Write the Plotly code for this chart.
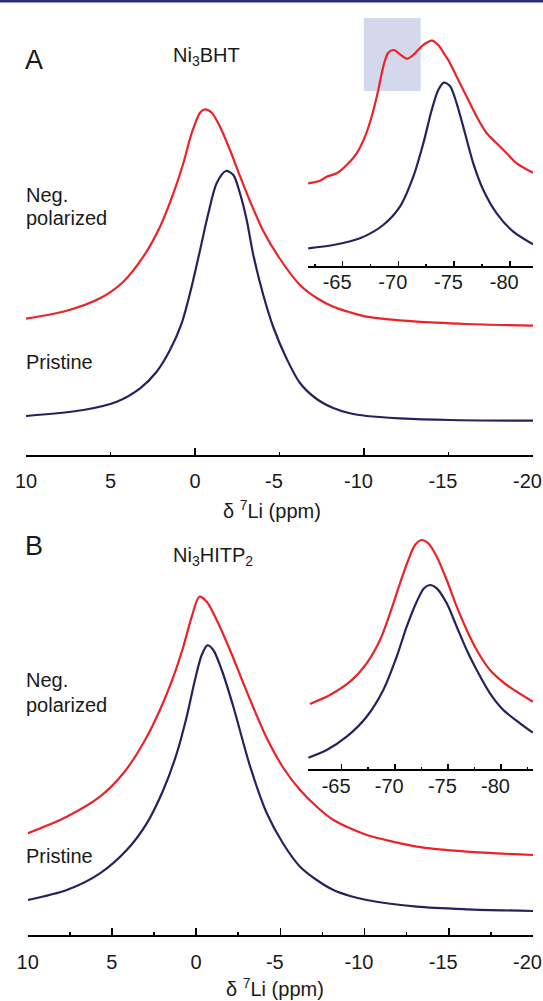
import plotly.graph_objects as go

W, H = 543, 1001
RED = "#ec2227"
NAVY = "#25235f"
FONT = "Liberation Sans, Arial, sans-serif"

# ---------------- Panel A (Ni3BHT), main spectrum ----------------
a_pristine_ppm = [10.0, 6.61, 4.63, 3.25, 2.27, 1.48, 0.79, 0.20, -0.30, -0.79, -1.28, -1.83,
                  -2.27, -2.66, -3.06, -3.45, -4.04, -4.63, -5.43, -6.21, -7.20, -8.18, -9.17,
                  -10.16, -12.13, -15.09, -20.0]
a_pristine_int = [39, 45, 53.3, 66.7, 83.3, 105, 131.7, 168.3, 205, 241.7, 271.7, 284,
                  280, 261.7, 235, 200, 160, 128, 96, 72, 56, 47, 41.7, 39, 36.7, 35, 34.3]
a_neg_ppm = [10.0, 7.59, 5.62, 4.24, 3.06, 2.07, 1.28, 0.69, 0.20, -0.30, -0.59, -0.99, -1.48,
             -2.07, -2.66, -3.25, -4.04, -5.03, -6.21, -7.20, -8.18, -9.17, -10.16, -13.12,
             -16.08, -20.0]
a_neg_int = [136.3, 144.3, 156.7, 173.3, 198.3, 228.3, 261.7, 291.7, 321.7, 342.3, 345.7, 342.3, 328.3,
             305, 279, 254, 224, 196, 170, 157, 148.3, 142.7, 138.3, 133.3, 131, 129.3]

# ---------------- Panel A inset ----------------
ai_pristine_ppm = [-61.91, -64.16, -66.55, -68.64, -70.14, -71.34, -72.24, -72.99, -73.58, -74.09,
                   -74.63, -75.23, -75.98, -76.72, -77.62, -78.82, -80.31, -82.08]
ai_pristine_int = [17.7, 21, 27.7, 41, 59.3, 89.3, 122.7, 156, 176, 183.3,
                   180, 162.7, 132.7, 102.7, 76, 52.7, 34.3, 21.7]
ai_neg_ppm = [-61.91, -62.96, -63.56, -64.46, -65.36, -66.26, -67.0, -67.60, -68.20, -68.64, -69.09,
              -69.60, -70.14, -70.80, -71.49, -72.24, -72.99, -73.58, -74.18, -74.48, -75.23, -76.13,
              -77.03, -77.93, -78.82, -79.72, -80.62, -82.08]
ai_neg_int = [82.7, 85.3, 89.3, 92.7, 101, 112.7, 129.3, 149.3, 176, 199.3, 213.3,
              216, 211.7, 207.3, 212.7, 221, 225.3, 221, 211, 206, 189.3, 169.3,
              149.3, 132.7, 122.7, 112.7, 102.7, 93.3]
ai_highlight_ppm = [-66.9, -72.0]
ai_highlight_int = [175, 248]

# ---------------- Panel B (Ni3HITP2), main spectrum ----------------
b_pristine_ppm = [10.0, 7.68, 5.71, 4.12, 2.93, 1.95, 1.15, 0.56, 0.07, -0.33, -0.67, -1.02, -1.52,
                  -2.21, -3.21, -4.19, -5.18, -6.17, -7.16, -8.15, -9.14, -10.13, -13.10, -16.07, -20.0]
b_pristine_int = [35, 45, 61.7, 85, 111.7, 145, 181.7, 218.3, 255, 280, 289.7, 285, 265,
                  228.3, 168.3, 122, 91, 68.3, 55, 45, 39, 35, 28.3, 25.7, 24]
b_neg_ppm = [10.0, 7.68, 5.71, 4.32, 3.14, 2.15, 1.35, 0.76, 0.26, -0.19, -0.63, -1.22, -2.01,
             -2.80, -3.21, -4.19, -5.18, -6.17, -7.16, -8.15, -9.14, -10.13, -13.10, -16.07, -20.0]
b_neg_int = [101.7, 118.3, 138.3, 161.7, 191.7, 225, 258.3, 288.3, 318.3, 338.3, 333.3, 315, 285,
             252, 235, 197, 167, 145, 128.3, 115, 106.7, 100, 88.3, 83.3, 80]

# ---------------- Panel B inset ----------------
bi_pristine_ppm = [-61.86, -63.59, -65.47, -67.35, -68.92, -70.18, -71.12, -72.06, -72.75, -73.31,
                   -73.95, -74.89, -75.83, -76.77, -77.71, -78.96, -80.22, -81.79, -83.0]
bi_pristine_int = [11.3, 19, 32.3, 52.3, 79, 112.3, 142.3, 167.3, 180.7, 184,
                   180.7, 165.7, 142.3, 119, 99, 75.7, 59, 45.7, 36.3]
bi_neg_ppm = [-62.01, -63.89, -65.78, -67.35, -68.61, -69.55, -70.49, -71.27, -71.90, -72.53,
              -73.15, -73.95, -74.89, -75.83, -76.77, -77.71, -78.96, -80.54, -83.0]
bi_neg_int = [65, 74, 87.3, 105.7, 129, 155.7, 185.7, 209, 224, 229,
              225.7, 212.3, 189, 162.3, 139, 119, 99, 84, 67.3]

# ---------------- Tick labels ----------------
NB = "\u00a0\u00a0"
main_tickvals = [10, 5, 0, -5, -10, -15, -20]
main_ticktext = ["10", "5", "0", "-5" + NB, "-10" + NB, "-15" + NB, "-20" + NB]
main_long_ticks_a = [10, 0, -10, -20]
main_minor_b = [7.5, 2.5, -2.5, -7.5, -12.5, -17.5]
inset_tickvals = [-65, -70, -75, -80]
inset_ticktext = ["-65" + NB, "-70" + NB, "-75" + NB, "-80" + NB]
inset_minor_a = [-62.5, -67.5, -72.5, -77.5]
inset_minor_b = [-67.5, -72.5, -77.5, -82.5]


def px(x):
    return x / W


def py(y):
    return 1 - y / H


fig = go.Figure()


def add_line(x, y, color, xa, ya):
    fig.add_trace(go.Scatter(x=x, y=y, mode="lines", xaxis=xa, yaxis=ya,
                             line=dict(color=color, width=2.2, shape="spline", smoothing=0.8),
                             hoverinfo="skip", showlegend=False))


add_line(a_neg_ppm, a_neg_int, RED, "x", "y")
add_line(a_pristine_ppm, a_pristine_int, NAVY, "x", "y")
add_line(ai_neg_ppm, ai_neg_int, RED, "x2", "y2")
add_line(ai_pristine_ppm, ai_pristine_int, NAVY, "x2", "y2")
add_line(b_neg_ppm, b_neg_int, RED, "x3", "y3")
add_line(b_pristine_ppm, b_pristine_int, NAVY, "x3", "y3")
add_line(bi_neg_ppm, bi_neg_int, RED, "x4", "y4")
add_line(bi_pristine_ppm, bi_pristine_int, NAVY, "x4", "y4")

tickfont = dict(family=FONT, size=20, color="#1a1a1a")


def xaxis(domain, rng, anchor, tickvals, ticktext, ticklen, standoff, minor=None, minorlen=3.5):
    d = dict(domain=domain, range=rng, anchor=anchor, showline=True, linecolor="black",
             linewidth=2, ticks="inside", ticklen=ticklen, tickwidth=1.6, tickcolor="black",
             tickvals=tickvals, ticktext=ticktext, tickfont=tickfont, showgrid=False,
             zeroline=False, ticklabelstandoff=standoff, ticklabeloverflow="allow",
             automargin=False, fixedrange=True)
    if minor is not None:
        d["minor"] = dict(tickvals=minor, ticks="inside", ticklen=minorlen, tickwidth=1.6,
                          tickcolor="black", showgrid=False)
    return d


def yaxis(domain, rng):
    return dict(domain=domain, range=rng, visible=False, fixedrange=True, automargin=False)


layout = dict(
    template="none",
    width=W, height=H, margin=dict(l=0, r=0, t=0, b=0, pad=0, autoexpand=False),
    paper_bgcolor="white", plot_bgcolor="rgba(0,0,0,0)", showlegend=False,
    xaxis=xaxis([px(26), px(533)], [10, -20], "y", main_tickvals, main_ticktext, 3.5, 7),
    yaxis=yaxis([py(455), py(55)], [0, 400]),
    xaxis2=xaxis([px(308), px(533)], [-61.89, -82.08], "y2", inset_tickvals, inset_ticktext, 5, -3,
                 inset_minor_a, 2.5),
    yaxis2=yaxis([py(266), py(10)], [0, 256]),
    xaxis3=xaxis([px(27.7), px(533)], [10, -20], "y3", main_tickvals, main_ticktext, 7, 8,
                 main_minor_b, 3.5),
    yaxis3=yaxis([py(935), py(575)], [0, 360]),
    xaxis4=xaxis([px(308), px(533)], [-61.83, -83.01], "y4", inset_tickvals, inset_ticktext, 5, -2,
                 inset_minor_b, 2.5),
    yaxis4=yaxis([py(769), py(529)], [0, 240]),
    xaxis5=dict(domain=[px(26), px(533)], range=[10, -20], anchor="y", overlaying="x",
                tickvals=main_long_ticks_a, ticks="inside", ticklen=7, tickwidth=1.6,
                tickcolor="black", showticklabels=False, showline=False, showgrid=False,
                zeroline=False, automargin=False, fixedrange=True),
)
fig.update_layout(**layout)
fig.add_trace(go.Scatter(x=[10], y=[0], xaxis="x5", yaxis="y", mode="markers",
                         marker=dict(opacity=0), hoverinfo="skip", showlegend=False))

# highlighted region in inset A
fig.add_shape(type="rect", xref="x2", yref="y2", x0=ai_highlight_ppm[0], x1=ai_highlight_ppm[1],
              y0=ai_highlight_int[0], y1=ai_highlight_int[1], fillcolor="#d4d8ec",
              line=dict(width=0), layer="below")
# top rule
fig.add_shape(type="rect", xref="paper", yref="paper", x0=0, x1=1, y0=py(2.5), y1=1,
              fillcolor="#2b2f78", line=dict(width=0))

texts = [
    ("A", 24, 60, 27, "left", "middle"),
    ("Ni<sub>3</sub>BHT", 172, 57, 20, "left", "middle"),
    ("Neg.", 25, 195, 20, "left", "middle"),
    ("polarized", 25, 218, 20, "left", "middle"),
    ("Pristine", 25, 362, 20, "left", "middle"),
    ("δ <sup>7</sup>Li (ppm)", 272, 509, 20, "center", "middle"),
    ("B", 24, 546, 27, "left", "middle"),
    ("Ni<sub>3</sub>HITP<sub>2</sub>", 172, 556, 20, "left", "middle"),
    ("Neg.", 25, 680, 20, "left", "middle"),
    ("polarized", 25, 705, 20, "left", "middle"),
    ("Pristine", 25, 856, 20, "left", "middle"),
    ("δ <sup>7</sup>Li (ppm)", 275, 1001, 20, "center", "bottom"),
]
for t, x, y, s, anc, vanc in texts:
    fig.add_annotation(text=t, x=px(x), y=py(y), xref="paper", yref="paper", xanchor=anc,
                       yanchor=vanc, showarrow=False, borderpad=0,
                       font=dict(family=FONT, size=s, color="#1a1a1a"))

fig.write_html("out.html", config={"displayModeBar": False, "staticPlot": True},
               post_script=(
                   "document.documentElement.style.margin='0';document.body.style.margin='0';"
                   "document.body.style.overflow='hidden';"
                   "document.documentElement.style.overflow='hidden';"))
